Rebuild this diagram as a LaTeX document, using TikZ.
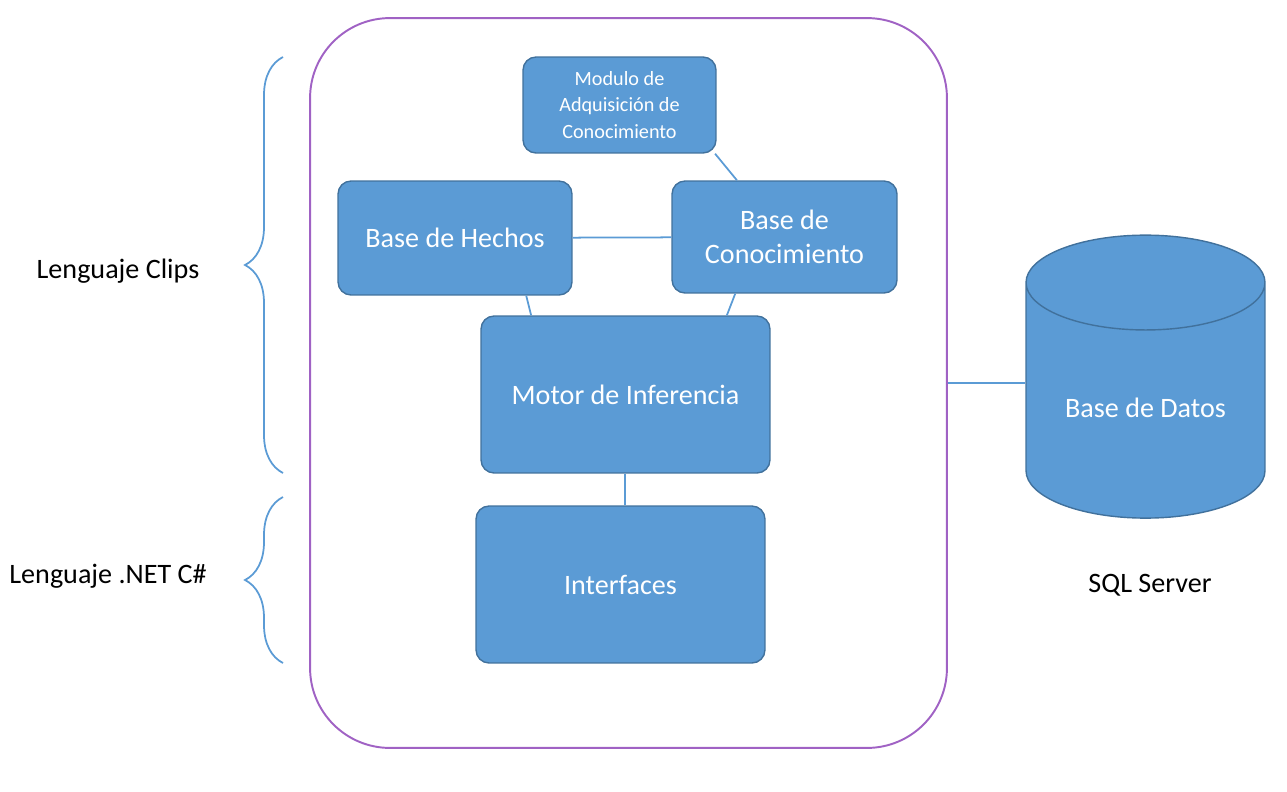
\documentclass[tikz,border=0pt]{standalone}
\usepackage{fontspec}
\setmainfont{Carlito}
\usetikzlibrary{shapes.geometric,decorations.pathreplacing}
\definecolor{cajaazul}{RGB}{91,155,213}
\definecolor{bordeazul}{RGB}{65,113,156}
\definecolor{morado}{RGB}{160,98,196}

\begin{document}
\begin{tikzpicture}[x=0.02cm, y=-0.02cm,
  caja/.style={draw=bordeazul, line width=0.8pt, fill=cajaazul, rounded corners=0.26cm,
    text=white, align=center, font=\fontsize{16}{19.5}\selectfont},
  enlace/.style={draw=cajaazul, line width=1pt},
  llave/.style={draw=cajaazul, line width=1pt, decorate, decoration={brace, amplitude=0.76cm}},
  etiqueta/.style={font=\fontsize{16}{19.5}\selectfont}]
\useasboundingbox (0,0) rectangle (1287,791);

% marco del sistema
\node[draw=morado, line width=1.1pt, rounded corners=1.6cm, minimum width=12.74cm, minimum height=14.6cm] (marco) at (628.5,383) {};

\node[caja, minimum width=3.86cm, minimum height=1.92cm, font=\fontsize{11.5}{15}\selectfont] (modulo) at (619.5,105) {Modulo de\\Adquisición de\\Conocimiento};
\node[caja, minimum width=4.68cm, minimum height=2.28cm] (hechos) at (455,238) {Base de Hechos};
\node[caja, minimum width=4.5cm, minimum height=2.24cm] (conoc) at (784.5,237) {Base de\\Conocimiento};
\node[caja, minimum width=5.78cm, minimum height=3.14cm] (motor) at (625.5,394.5) {Motor de Inferencia};
\node[caja, minimum width=5.78cm, minimum height=3.14cm] (interf) at (620.5,584.5) {Interfaces};

\draw[enlace] (modulo.-27) -- (conoc.130);
\draw[enlace] (hechos) -- (conoc);
\draw[enlace] (hechos.-39) -- (motor.140);
\draw[enlace] (conoc.-131) -- (motor.38);
\draw[enlace] (motor.south -| 625,0) -- (interf.north -| 625,0);

% base de datos
\node[cylinder, shape border rotate=90, aspect=0.55, draw=bordeazul, line width=0.8pt, fill=cajaazul,
  minimum width=4.78cm, minimum height=5.66cm, text=white, etiqueta] (db) at (1145.5,408) {Base de Datos};
\draw[enlace] (marco.east) -- (marco.east -| db.west);
\node[etiqueta] (sql) at (1150,585) {SQL Server};

% lenguajes
\draw[llave] (283,473) -- (283,57);
\draw[llave] (283,663) -- (283,497);
\node[etiqueta] (clips) at (118,271) {Lenguaje Clips};
\node[etiqueta] (net) at (108,576) {Lenguaje .NET C\#};
\end{tikzpicture}
\end{document}
